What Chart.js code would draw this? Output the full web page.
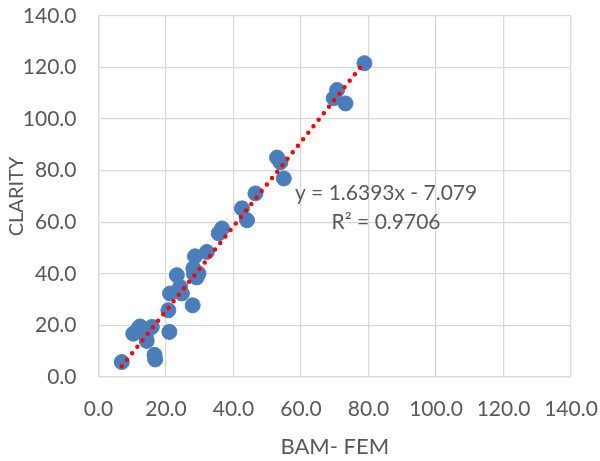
<!DOCTYPE html>
<html>
<head>
<meta charset="utf-8">
<script src="https://cdn.jsdelivr.net/npm/chart.js@4/dist/chart.umd.min.js"></script>
<style>
  html, body { margin: 0; padding: 0; background: #fff; }
  #wrap { width: 600px; height: 461px; position: relative; }
</style>
</head>
<body>
<div id="wrap"><canvas id="chart"></canvas></div>
<script>
const bamFem = [6.9, 16.8, 16.6, 10.3, 11.8, 12.3, 13.8, 14.3, 14.0, 15.8,
  21.0, 20.7, 21.2, 23.2, 24.2, 24.7, 23.7, 27.9, 28.6, 28.1, 28.3, 29.1,
  29.6, 32.1, 35.6, 36.6, 42.5, 44.0, 46.5, 52.9, 53.9, 54.9, 69.7, 70.7,
  73.2, 78.8];
const clarity = [5.8, 6.8, 8.6, 16.8, 18.8, 19.6, 18.1, 14.0, 15.8, 19.4,
  17.5, 25.9, 32.4, 39.5, 34.9, 32.4, 33.5, 27.8, 46.8, 42.1, 40.0, 38.6,
  40.2, 48.5, 55.7, 57.6, 65.4, 60.8, 71.2, 85.1, 83.3, 77.0, 108.1, 111.3,
  106.1, 121.7];

// trendline end points
const trendX = [6.9, 78.8];
const trendY = [4.2, 122.0];

const axisTicks = [0, 20, 40, 60, 80, 100, 120, 140];
const eqText = "y = 1.6393x - 7.079";
const r2Text = "R\u00B2 = 0.9706";
const eqPos = [85.2, 71.3];
const r2Pos = [85.2, 60.2];

const textColor = "#595959";
const gridColor = "#d9d9d9";
const fontFamily = "Lato, 'Open Sans', sans-serif";

// build datasets
var points = bamFem.map((x, i) => ({ x: x, y: clarity[i] }));
var trend = trendX.map((x, i) => ({ x: x, y: trendY[i] }));

// draws the equation + R2 text
const trendLabel = {
  id: "trendLabel",
  afterDatasetsDraw(chart) {
    const ctx = chart.ctx;
    const xs = chart.scales.x;
    const ys = chart.scales.y;
    ctx.save();
    ctx.fillStyle = textColor;
    ctx.font = "21px " + fontFamily;
    ctx.textAlign = "center";
    ctx.textBaseline = "middle";
    ctx.fillText(eqText, xs.getPixelForValue(eqPos[0]), ys.getPixelForValue(eqPos[1]));
    ctx.fillText(r2Text, xs.getPixelForValue(r2Pos[0]), ys.getPixelForValue(r2Pos[1]));
    ctx.restore();
  }
};

new Chart(document.getElementById("chart"), {
  type: "scatter",
  data: {
    datasets: [
      {
        label: "trend",
        type: "line",
        data: trend,
        borderColor: "#ff0000",
        borderWidth: 4.5,
        borderDash: [0, 8.3],
        borderCapStyle: "round",
        pointRadius: 0,
        fill: false,
        order: 0
      },
      {
        label: "CLARITY",
        data: points,
        backgroundColor: "#4a7ebb",
        borderColor: "#4a7ebb",
        pointRadius: 7.5,
        pointHoverRadius: 7.5,
        order: 1
      }
    ]
  },
  options: {
    responsive: true,
    maintainAspectRatio: false,
    animation: false,
    layout: { padding: { top: 16, right: 29, left: 0, bottom: 0 } },
    plugins: {
      legend: { display: false },
      tooltip: { enabled: false }
    },
    scales: {
      x: {
        type: "linear",
        min: 0,
        max: 140,
        afterBuildTicks: (axis) => { axis.ticks = axisTicks.map((v) => ({ value: v })); },
        afterFit: (axis) => {
          axis.height = 84;
          axis.paddingLeft = 0;
          axis.paddingRight = 0;
        },
        grid: { color: gridColor, lineWidth: 1.3, drawTicks: false },
        border: { color: gridColor, width: 1.3 },
        ticks: {
          color: textColor,
          font: { family: fontFamily, size: 21 },
          padding: 20,
          maxRotation: 0,
          callback: (v) => v.toFixed(1)
        },
        title: {
          display: true,
          text: "BAM- FEM",
          color: textColor,
          font: { family: fontFamily, size: 22 },
          padding: { top: 0, bottom: 1 }
        }
      },
      y: {
        type: "linear",
        min: 0,
        max: 140,
        afterBuildTicks: (axis) => { axis.ticks = axisTicks.map((v) => ({ value: v })); },
        afterFit: (axis) => {
          axis.width = 98.5;
          axis.paddingTop = 0;
          axis.paddingBottom = 0;
        },
        grid: { color: gridColor, lineWidth: 1.3, drawTicks: false },
        border: { color: gridColor, width: 1.3 },
        ticks: {
          color: textColor,
          font: { family: fontFamily, size: 21 },
          padding: 22,
          callback: (v) => v.toFixed(1)
        },
        title: {
          display: true,
          text: "CLARITY",
          color: textColor,
          font: { family: fontFamily, size: 20 },
          padding: { top: 5, bottom: 0 }
        }
      }
    }
  },
  plugins: [trendLabel]
});
</script>
</body>
</html>
